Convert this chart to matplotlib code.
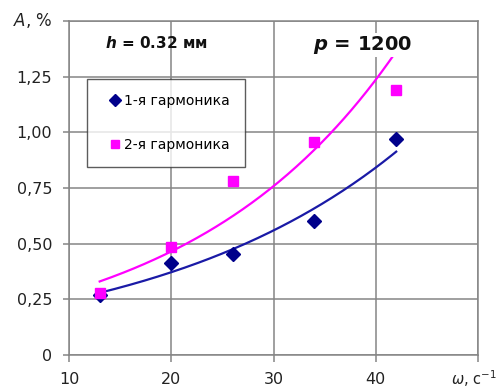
import numpy as np
import matplotlib
matplotlib.use("Agg")
import matplotlib.pyplot as plt
from matplotlib.ticker import FuncFormatter

plt.rcParams['font.family'] = ['DejaVu Sans']
plt.rcParams['mathtext.fontset'] = 'custom'
plt.rcParams['mathtext.rm'] = 'DejaVu Sans'
plt.rcParams['mathtext.it'] = 'DejaVu Sans:italic'
plt.rcParams['mathtext.bf'] = 'DejaVu Sans:bold'
plt.rcParams['mathtext.bfit'] = 'DejaVu Sans:bold:italic'

omega = [13, 20, 26, 34, 42]
harm1 = [0.27, 0.415, 0.455, 0.60, 0.97]
harm2 = [0.28, 0.485, 0.78, 0.955, 1.19]
series_labels = ["1-я гармоника", "2-я гармоника"]
x_ticks = [10, 20, 30, 40, 50]
y_ticks = [0, 0.25, 0.5, 0.75, 1.0, 1.25, 1.5]

fig = plt.figure(figsize=(5.0, 3.9), dpi=100)
ax = fig.add_axes([69/500, 1-355/390, (478-69)/500, (355-21)/390])

grid_c = '#858585'
ax.set_xlim(10, 50)
ax.set_ylim(0, 1.5)
ax.set_xticks(x_ticks)
ax.set_yticks(y_ticks)
ax.grid(True, color=grid_c, linewidth=1.1)
ax.set_axisbelow(True)
for s in ax.spines.values():
    s.set_color(grid_c)
    s.set_linewidth(1.1)
ax.tick_params(axis='y', colors=grid_c, length=4.3, width=1.1, labelcolor='#222222',
               labelsize=11.5, pad=7.9)
ax.tick_params(axis='x', colors=grid_c, length=5, width=1.1, labelcolor='#222222',
               labelsize=11.5, pad=7.0)

def yfmt(v, pos):
    if abs(v - 1.5) < 1e-9:
        return ''
    if v == 0:
        return '0'
    return f"{v:.2f}".replace('.', ',')

def xfmt(v, pos):
    if v >= 50:
        return ''
    return f"{v:g}"

ax.yaxis.set_major_formatter(FuncFormatter(yfmt))
ax.xaxis.set_major_formatter(FuncFormatter(xfmt))

blue_m = '#00008B'
blue_l = '#1a1aa6'
mag = '#FF00FF'

# exponential trend lines (fit from data)
for xs, ys, c in [(omega, harm1, blue_l), (omega, harm2, mag)]:
    xa = np.array(xs, float)
    b, a = np.polyfit(xa, np.log(ys), 1)
    xx = np.linspace(xa.min(), xa.max(), 200)
    ax.plot(xx, np.exp(a + b * xx), color=c, lw=1.6, zorder=2)

ax.plot(omega, harm1, linestyle='none', marker='D', ms=7, color=blue_m,
        label=series_labels[0], zorder=3)
ax.plot(omega, harm2, linestyle='none', marker='s', ms=7.5, color=mag,
        label=series_labels[1], zorder=3)

leg = ax.legend(loc='upper left', bbox_to_anchor=((87-69)/409, 1-(79-21)/334),
                frameon=True, fancybox=False, edgecolor='#333333', fontsize=10,
                handlelength=1.95, handletextpad=-0.3, labelspacing=2.2,
                borderpad=1.05, borderaxespad=0, markerscale=0.85)
leg.get_frame().set_linewidth(1.0)
leg.set_zorder(5)

ax.text((105-69)/409, (355-43)/334, r"$\mathbfit{h}$ = 0.32 мм", transform=ax.transAxes,
        fontsize=11, fontweight='bold', ha='left', va='center', color='#111111', zorder=6)
ax.text((313-69)/409, (355-45)/334, r"$\mathbfit{p}$ = 1200", transform=ax.transAxes,
        fontsize=14, fontweight='bold', ha='left', va='center', color='#111111', zorder=6,
        bbox=dict(facecolor='white', edgecolor='none', pad=1))

fig.text(13/500, 1-20/390, r"$\it{A}$, %", fontsize=12, ha='left', va='center', color='#222222')
fig.text(497/500, 1-379/390, r"$\it{\omega}$, с$^{-1}$", fontsize=10.5, ha='right', va='center', color='#222222')

fig.savefig("out.png", dpi=100)
